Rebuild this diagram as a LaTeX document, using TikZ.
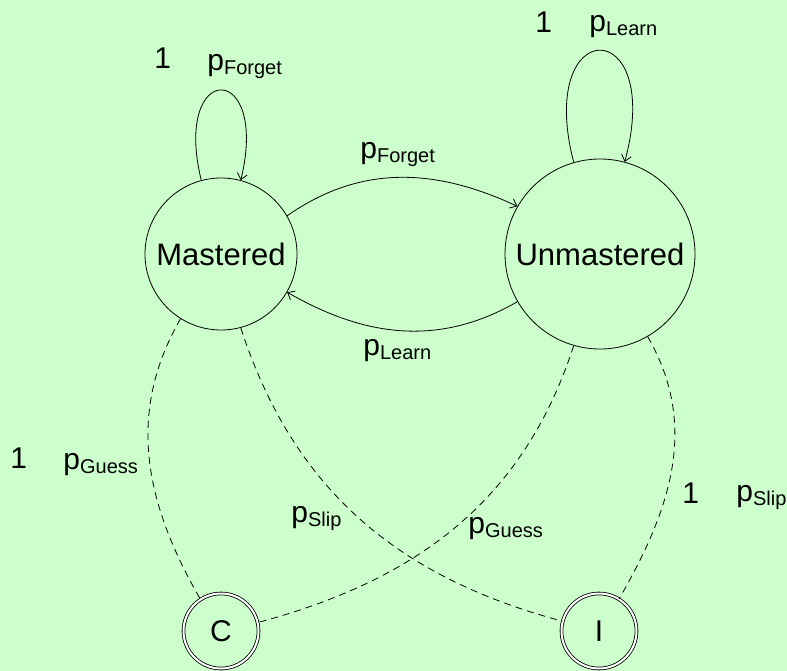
\documentclass[tikz,border=0pt]{standalone}
\usepackage{fontspec}
\setmainfont{Liberation Sans}
\usetikzlibrary{arrows.meta}
\definecolor{bgc}{RGB}{204,255,204}
\newcommand{\plab}[1]{p\raisebox{-4pt}{\fontsize{20}{24}\selectfont #1}}
\begin{document}
\begin{tikzpicture}[x=1pt,y=1pt,line width=0.8pt,
  state/.style={circle,draw,inner sep=0pt,font=\fontsize{31}{36}\selectfont},
  acc/.style={state,double,double distance=2pt,font=\fontsize{30}{36}\selectfont},
  lbl/.style={anchor=base west,inner sep=0pt,font=\fontsize{30}{36}\selectfont},
  arr/.style={-{Straight Barb[length=6pt,width=10pt]}},
  obs/.style={dash pattern=on 7pt off 5pt}]
\fill[bgc] (0,0) rectangle (787,-671);
\useasboundingbox (0,0) rectangle (787,-671);
\node[state,minimum size=152pt] (M) at (221,-254) {Mastered};
\node[state,minimum size=190pt] (U) at (600,-254) {Unmastered};
\node[acc,minimum size=75pt] (C) at (221,-631) {C};
\node[acc,minimum size=75pt] (I) at (599,-631) {I};
\draw[arr] (M.30) to[out=35,in=155] (U.150);
\draw[arr] (U.210) to[out=210,in=330] (M.330);
\draw[arr] (M.105) .. controls (172,-60) and (270,-60) .. (M.75);
\draw[arr] (U.106) .. controls (535,-13) and (665,-13) .. (U.75);
\draw[obs] (M.238) to[out=240,in=120] (C.123);
\draw[obs] (M.285) to[out=-72,in=165] (I.165);
\draw[obs] (U.254) to[out=252,in=15] (C.13);
\draw[obs] (U.300) to[out=300,in=60] (I.58);
\node[lbl] (a1) at (154,-69) {1};
\node[lbl] (a2) at (207,-71) {\plab{Forget}};
\node[lbl] (b1) at (535,-33) {1};
\node[lbl] (b2) at (589,-32) {\plab{Learn}};
\node[lbl] (f) at (360,-159) {\plab{Forget}};
\node[lbl] (l) at (363,-355) {\plab{Learn}};
\node[lbl] (c1) at (10,-468) {1};
\node[lbl] (c2) at (63,-469) {\plab{Guess}};
\node[lbl] (s) at (291,-522) {\plab{Slip}};
\node[lbl] (g) at (468,-533) {\plab{Guess}};
\node[lbl] (d1) at (682,-503) {1};
\node[lbl] (d2) at (736,-501) {\plab{Slip}};
\end{tikzpicture}
\end{document}
